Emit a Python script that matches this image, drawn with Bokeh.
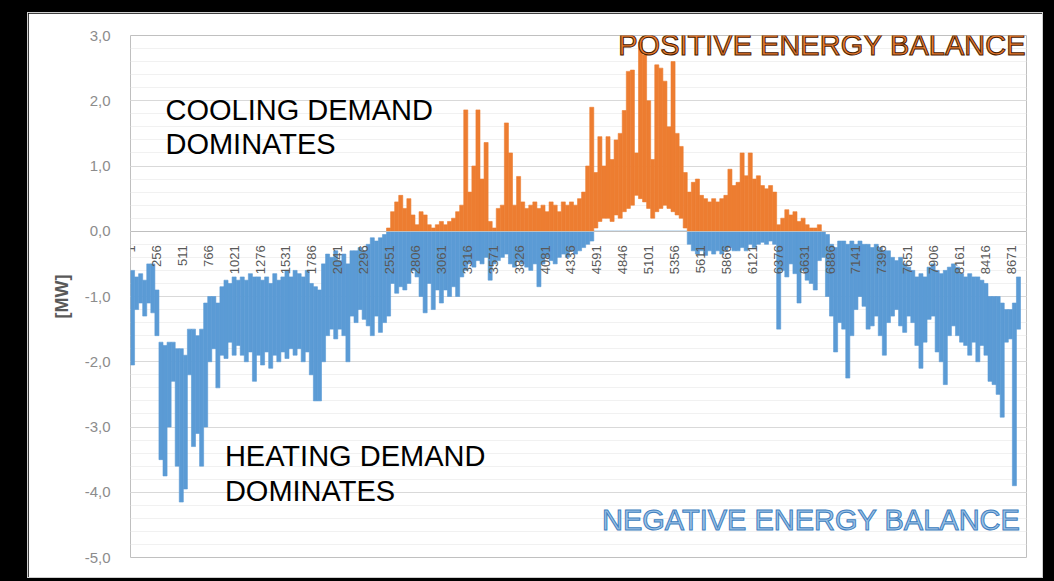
import math
from bokeh.plotting import figure
from bokeh.models import (Range1d, FixedTicker, SingleIntervalTicker,
                          CustomJSTickFormatter, Label, ColumnDataSource)
from bokeh.layouts import column
from bokeh.embed import file_html
from bokeh.resources import INLINE

# ---------------- data ----------------
# hourly energy balance, summarised per 40-hour bin: upper / lower envelope [MW]
BIN_HOURS = 40

# negative balance (blue series), bins start at hour 1
neg_start = 1
neg_hi = [
    -0.6, -0.7, -0.65, -0.75, -0.5, -0.5, -0.9, -1.7, -1.75, -1.7,      # 1-400
    -1.7, -1.8, -1.8, -1.9, -1.5, -1.5, -1.6, -1.5, -1.1, -1.0,         # 401-800
    -1.0, -1.1, -0.85, -0.75, -0.8, -0.7, -0.75, -0.7, -0.75, -0.65,    # 801-1200
    -0.7, -0.7, -0.75, -0.7, -0.8, -0.65, -0.75, -0.7, -0.6, -0.7,      # 1201-1600
    -0.6, -0.65, -0.7, -0.6, -0.8, -0.85, -0.9, -0.5, -0.35, -0.4,      # 1601-2000
    -0.3, -0.45, -0.35, -0.5, -0.3, -0.3, -0.25, -0.3, -0.2, -0.1,      # 2001-2400
    -0.15, -0.1, -0.05, 0, 0, 0, 0, 0, 0, 0,                            # 2401-2800
    0, 0, 0, 0, 0, 0, 0, 0, 0, 0,                                       # 2801-3200
    0, 0, 0, 0, 0, 0, 0, 0, 0, 0,                                       # 3201-3600
    0, 0, 0, 0, 0, 0, 0, 0, 0, 0,                                       # 3601-4000
    0, 0, 0, 0, 0, 0, 0, 0, 0, 0,                                       # 4001-4400
    0, 0, 0, 0, 0, 0, 0, 0, 0, 0,                                       # 4401-4800
    0, 0, 0, 0, 0, 0, 0, 0, 0, 0,                                       # 4801-5200
    0, 0, 0, 0, 0, 0, 0, 0, 0, 0,                                       # 5201-5600
    0, 0, 0, 0, 0, 0, 0, 0, 0, 0,                                       # 5601-6000
    0, 0, 0, 0, 0, 0, 0, 0, 0, 0,                                       # 6001-6400
    0, 0, 0, 0, 0, 0, 0, 0, 0, 0,                                       # 6401-6800
    0, -0.05, -0.2, -0.25, -0.15, -0.15, -0.2, -0.15, -0.2, -0.15,      # 6801-7200
    -0.2, -0.2, -0.25, -0.2, -0.25, -0.3, -0.3, -0.4, -0.45, -0.4,      # 7201-7600
    -0.5, -0.55, -0.6, -0.7, -0.65, -0.7, -0.55, -0.5, -0.6, -0.65,     # 7601-8000
    -0.6, -0.55, -0.5, -0.55, -0.65, -0.7, -0.65, -0.7, -0.7, -0.75,    # 8001-8400
    -0.8, -1.0, -1.0, -1.0, -1.1, -1.2, -1.2, -1.1, -0.7,               # 8401-8760
]
neg_lo = [
    -2.05, -1.2, -1.1, -1.3, -1.1, -1.25, -1.6, -3.5, -3.75, -3.0,
    -2.3, -3.6, -4.15, -3.95, -2.2, -3.3, -3.1, -3.6, -3.0, -2.0,
    -1.8, -2.4, -1.9, -1.95, -1.7, -1.9, -1.75, -1.9, -2.0, -1.85,
    -2.3, -1.9, -2.05, -1.85, -2.1, -1.9, -2.0, -1.85, -1.95, -1.8,
    -1.9, -1.8, -2.0, -1.85, -2.2, -2.6, -2.6, -2.0, -1.6, -1.5,
    -1.65, -1.5, -1.6, -2.0, -1.3, -1.4, -1.2, -1.35, -1.45, -1.6,
    -1.3, -1.55, -1.4, -1.3, -0.8, -0.95, -0.85, -0.9, -0.8, -0.6,
    -0.7, -1.0, -1.25, -0.8, -1.2, -0.9, -1.1, -0.9, -1.0, -0.85,
    -1.0, -0.7, -0.6, -0.5, -0.55, -0.45, -0.5, -0.4, -0.75, -0.5,
    -0.45, -0.4, -0.35, -0.5, -0.55, -0.45, -0.5, -0.55, -0.6, -0.5,
    -0.85, -0.5, -0.4, -0.45, -0.5, -0.4, -0.35, -0.4, -0.3, -0.35,
    -0.3, -0.25, -0.2, -0.15, 0, 0, 0, 0, 0, 0,
    0, 0, 0, 0, 0, 0, 0, 0, 0, 0,
    0, 0, 0, 0, 0, 0, 0, -0.2, -0.3, -0.35,
    -0.3, -0.37, -0.3, -0.35, -0.3, -0.35, -0.3, -0.25, -0.3, -0.3,
    -0.25, -0.3, -0.2, -0.25, -0.2, -0.17, -0.2, -0.15, -0.2, -1.5,
    -0.6, -0.7, -0.5, -0.65, -1.1, -0.6, -0.75, -0.8, -0.9, -0.45,
    -0.4, -1.0, -1.3, -1.85, -1.4, -1.5, -2.25, -1.6, -1.2, -1.0,
    -1.15, -1.5, -1.45, -1.3, -1.6, -1.9, -1.4, -1.3, -1.2, -1.45,
    -1.55, -1.3, -1.4, -1.75, -2.1, -1.7, -1.35, -1.3, -1.85, -2.0,
    -2.35, -1.6, -1.45, -1.6, -1.7, -1.75, -1.9, -1.7, -2.0, -1.75,
    -1.9, -2.3, -2.35, -2.5, -2.85, -1.7, -1.65, -3.9, -1.5,
]

# positive balance (orange series), bins start at hour 2521
pos_start = 2521
pos_hi = [
    0.05, 0.3, 0.45, 0.55, 0.35, 0.5, 0.25, 0.1, 0.3, 0.25,        # 2521-2920
    0.1, 0.05, 0.1, 0.15, 0.1, 0.15, 0.2, 0.3, 0.4, 1.86,          # 2921-3320
    0.6, 1.0, 1.86, 0.8, 1.36, 0.15, 0.05, 0.35, 0.4, 1.66,        # 3321-3720
    1.2, 0.4, 0.84, 0.45, 0.35, 0.4, 0.45, 0.35, 0.4, 0.3,         # 3721-4120
    0.45, 0.4, 0.3, 0.45, 0.4, 0.45, 0.4, 0.5, 0.6, 1.0,           # 4121-4520
    1.9, 0.9, 1.45, 1.0, 1.45, 1.1, 1.4, 1.5, 1.85, 2.45,          # 4521-4920
    2.47, 1.2, 2.9, 2.7, 2.0, 1.1, 2.55, 2.5, 2.3, 1.6,            # 4921-5320
    2.6, 1.5, 1.3, 0.9, 0.6, 0.75, 0.8, 0.55, 0.5, 0.45,           # 5321-5720
    0.5, 0.45, 0.5, 0.55, 0.95, 0.7, 0.75, 1.2, 0.85, 1.2,         # 5721-6120
    0.8, 0.85, 0.7, 0.65, 0.7, 0.6, 0.1, 0.2, 0.33, 0.25,          # 6121-6520
    0.3, 0.15, 0.2, 0.1, 0.05, 0.05, 0.1,                          # 6521-6800
]
pos_lo = [
    0, 0, 0, 0, 0, 0, 0, 0, 0, 0,
    0, 0, 0, 0, 0, 0, 0, 0, 0, 0,
    0, 0, 0, 0, 0, 0, 0, 0, 0, 0,
    0, 0, 0, 0, 0, 0, 0, 0, 0, 0,
    0, 0, 0, 0, 0, 0, 0, 0, 0, 0,
    0, 0.05, 0.15, 0.2, 0.2, 0.15, 0.25, 0.2, 0.3, 0.35,
    0.4, 0.55, 0.5, 0.45, 0.35, 0.2, 0.3, 0.35, 0.4, 0.35,
    0.3, 0.25, 0.2, 0.05, 0, 0, 0, 0, 0, 0,
    0, 0, 0, 0, 0, 0, 0, 0, 0, 0,
    0, 0, 0, 0, 0, 0, 0, 0, 0, 0,
    0, 0, 0, 0, 0, 0, 0,
]

x_tick_hours = [1, 256, 511, 766, 1021, 1276, 1531, 1786, 2041, 2296, 2551,
                2806, 3061, 3316, 3571, 3826, 4081, 4336, 4591, 4846, 5101,
                5356, 5611, 5866, 6121, 6376, 6631, 6886, 7141, 7396, 7651,
                7906, 8161, 8416, 8671]

y_min, y_max = -5, 3
hours_in_year = 8760
x_view_end = 8820   # a little room to the right of the last hour

texts = {
    "cool1": "COOLING DEMAND", "cool2": "DOMINATES",
    "heat1": "HEATING DEMAND", "heat2": "DOMINATES",
    "pos": "POSITIVE ENERGY BALANCE", "neg": "NEGATIVE ENERGY BALANCE",
}

BLUE = "#5B9BD5"
ORANGE = "#ED7D31"

# ---------------- figure ----------------
p = figure(width=1014, height=564,
           x_range=Range1d(1, x_view_end), y_range=Range1d(y_min, y_max),
           output_backend="svg", toolbar_location=None,
           min_border_left=102, min_border_right=16,
           min_border_top=22, min_border_bottom=20,
           background_fill_color="white", border_fill_color="white",
           outline_line_color=None,
           styles={"outline": "1px solid #cfcfcf"})

neg_src = ColumnDataSource(dict(
    x=[neg_start + BIN_HOURS * i + BIN_HOURS / 2 for i in range(len(neg_hi))],
    top=neg_hi, bottom=neg_lo))
pos_src = ColumnDataSource(dict(
    x=[pos_start + BIN_HOURS * i + BIN_HOURS / 2 for i in range(len(pos_hi))],
    top=pos_hi, bottom=pos_lo))

p.vbar(x="x", top="top", bottom="bottom", width=BIN_HOURS, source=neg_src,
       fill_color=BLUE, line_color=BLUE, line_width=0.6)
p.vbar(x="x", top="top", bottom="bottom", width=BIN_HOURS, source=pos_src,
       fill_color=ORANGE, line_color=ORANGE, line_width=0.6)

# y axis
yt = SingleIntervalTicker(interval=1, num_minor_ticks=5)
p.yaxis.ticker = yt
p.ygrid.ticker = yt
p.yaxis.formatter = CustomJSTickFormatter(code="return tick.toFixed(1).replace('.', ',');")
p.yaxis.axis_line_color = None
p.yaxis.major_tick_line_color = None
p.yaxis.minor_tick_line_color = None
p.yaxis.major_label_standoff = 14
p.yaxis.major_label_text_font = "Liberation Sans"
p.yaxis.major_label_text_font_size = "15px"
p.yaxis.major_label_text_color = "#8c8c8c"
p.yaxis.axis_label = "[MW]"
p.yaxis.axis_label_text_font = "Liberation Sans"
p.yaxis.axis_label_text_font_size = "18px"
p.yaxis.axis_label_text_font_style = "bold"
p.yaxis.axis_label_text_color = "#595959"
p.yaxis.axis_label_standoff = 10
p.ygrid.grid_line_color = "#d9d9d9"
p.ygrid.minor_grid_line_color = "#f1f1f1"
p.xgrid.grid_line_color = None

# x axis, crossing at 0
p.xaxis.ticker = FixedTicker(ticks=x_tick_hours)
p.xaxis.fixed_location = 0
p.xaxis.major_label_orientation = math.pi / 2
p.xaxis.axis_line_color = "#bfbfbf"
p.xaxis.major_tick_line_color = None
p.xaxis.minor_tick_line_color = None
p.xaxis.major_label_standoff = 8
p.xaxis.major_label_text_font = "Liberation Sans"
p.xaxis.major_label_text_font_size = "13px"
p.xaxis.major_label_text_color = "#595959"

# annotations
def lab(x, y, t, align="left", color="black", outline=None):
    kw = dict(x=x, y=y, text=t, text_font="Liberation Sans", text_font_size="29px",
              text_color=color, text_align=align, text_baseline="alphabetic")
    if outline:
        kw["text_outline_color"] = outline
    p.add_layout(Label(**kw))

lab(345, 1.86, texts["cool1"])
lab(345, 1.33, texts["cool2"])
lab(930, -3.45, texts["heat1"])
lab(930, -3.985, texts["heat2"])
lab(8815, 2.85, texts["pos"], align="right", color=ORANGE, outline="#4a2000")
lab(8760, -4.43, texts["neg"], align="right", color="#9DC3E6", outline="#3F7FBF")

layout = column(p, styles={"background-color": "black",
                           "padding": "13px 12px 4px 28px"})

open("out.html", "w").write(file_html(layout, INLINE))
